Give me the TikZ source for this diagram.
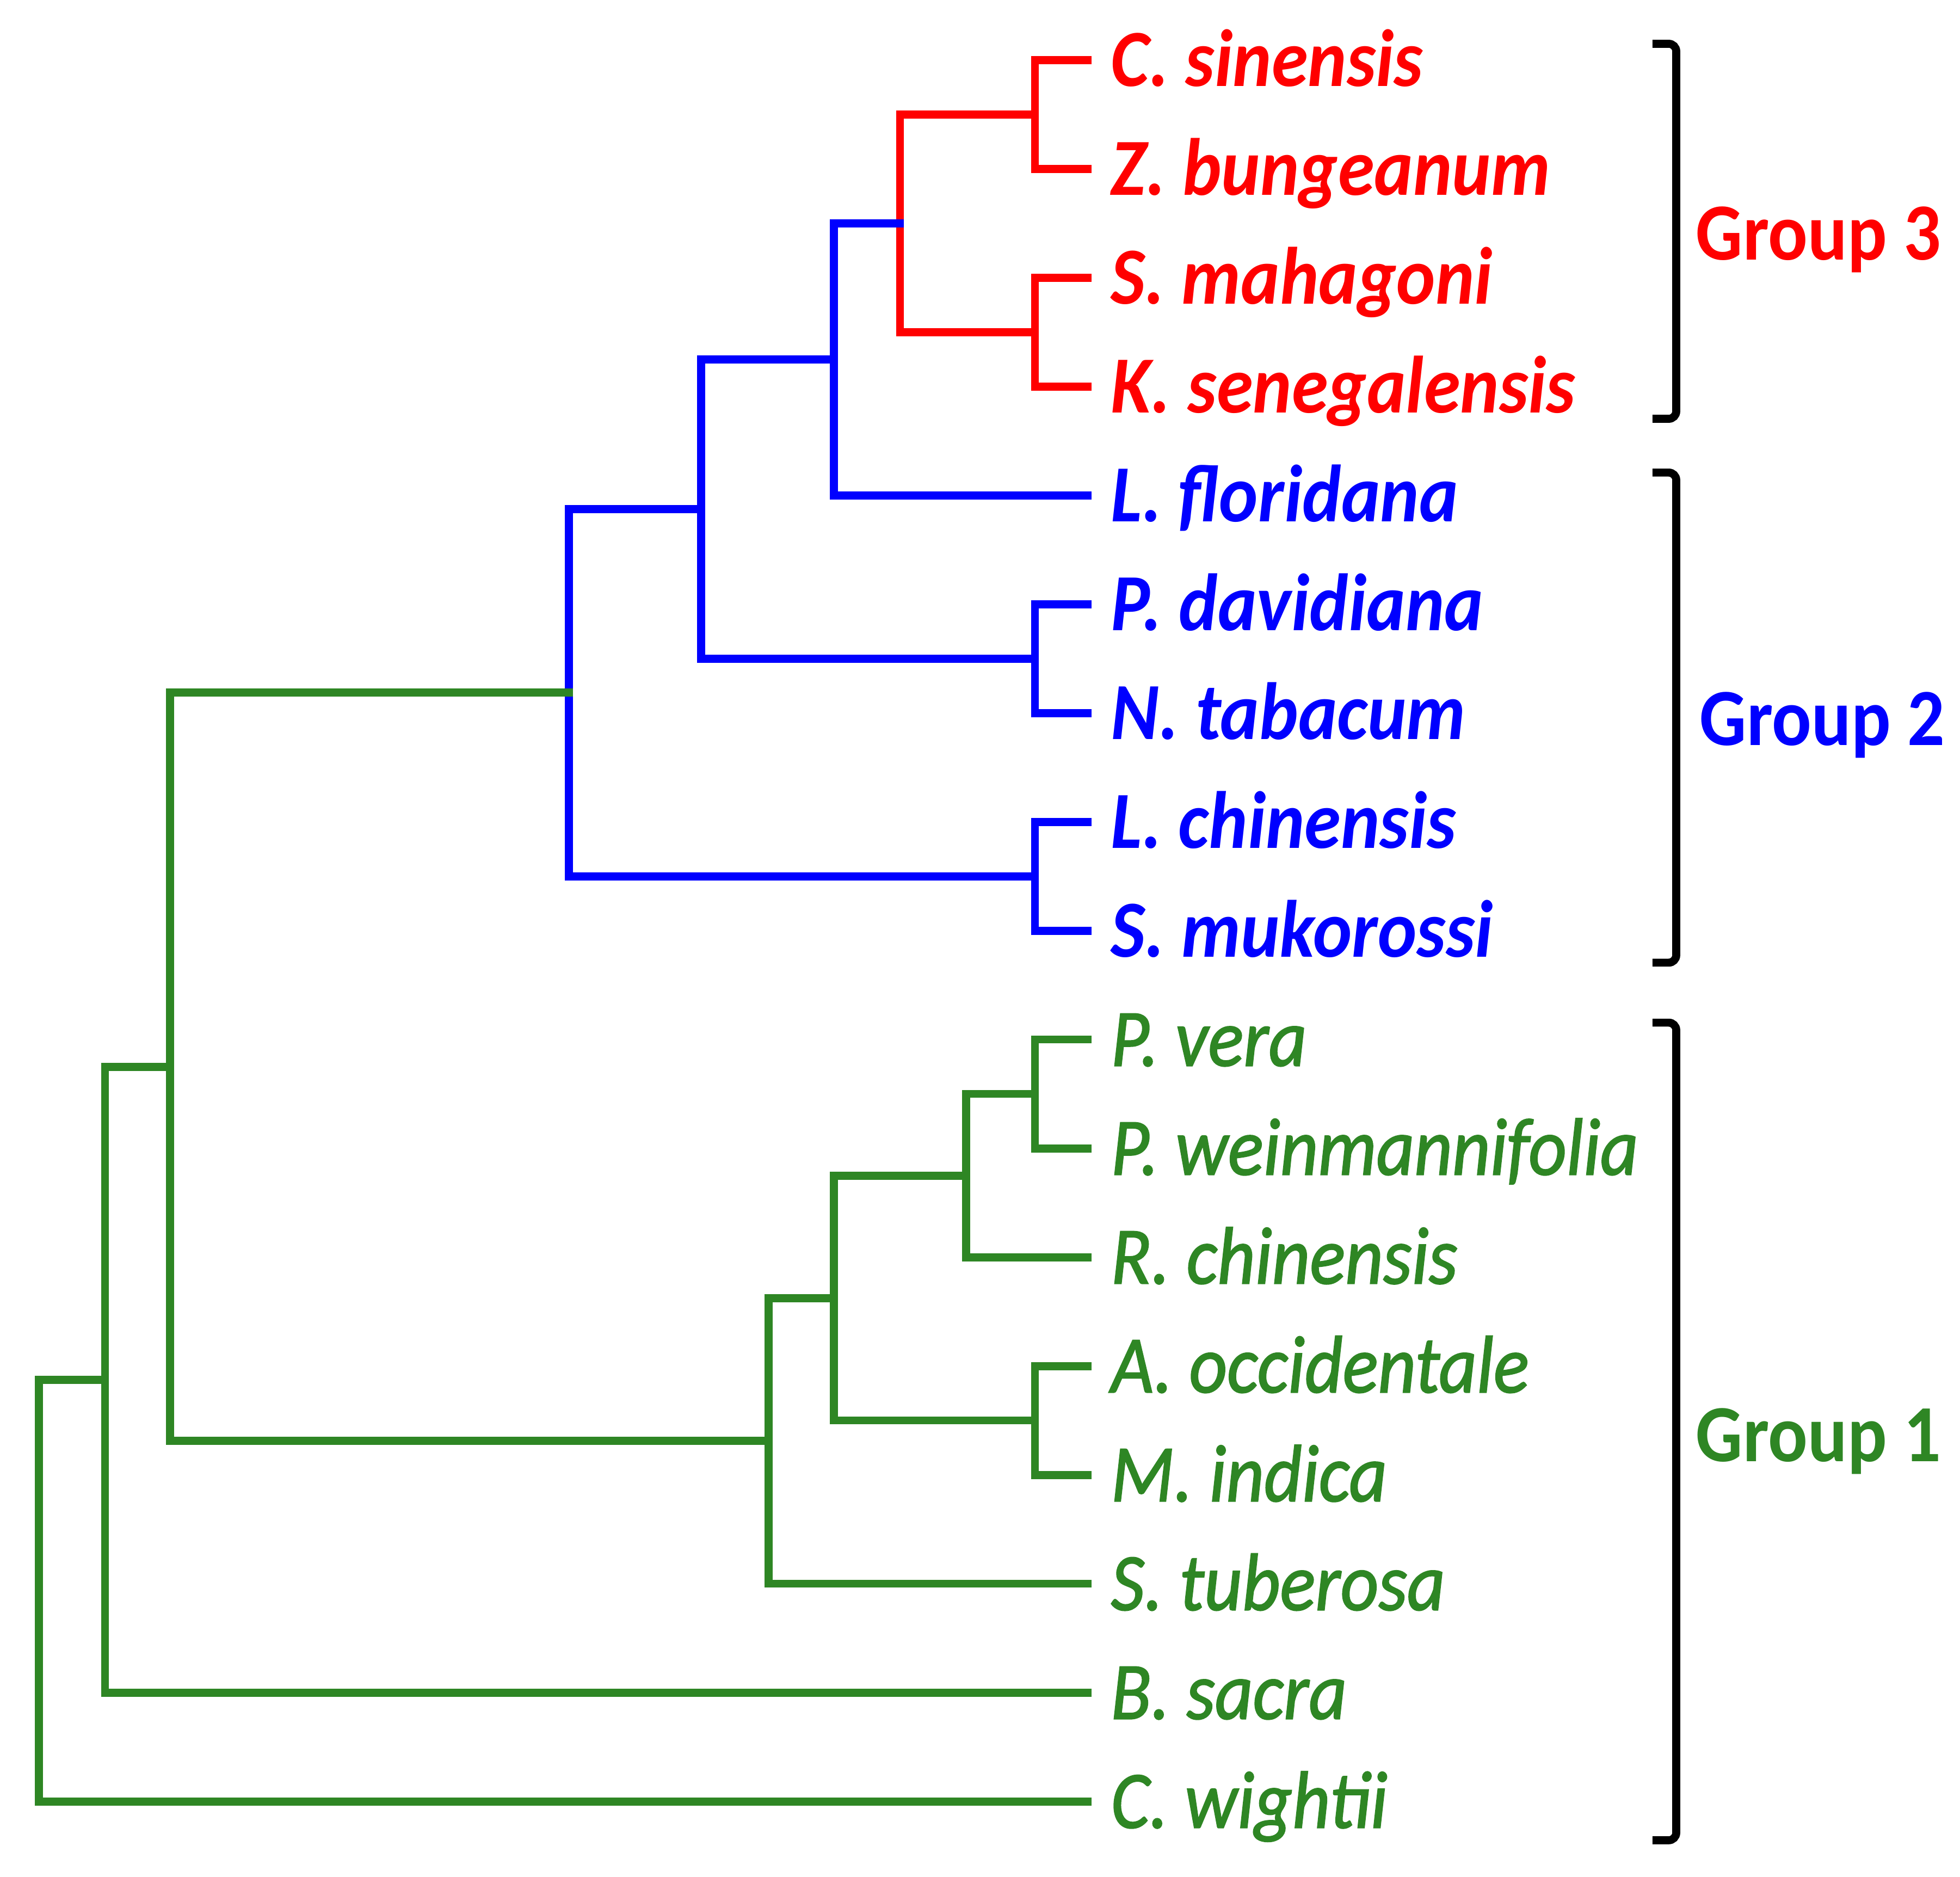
\documentclass[tikz,border=0pt]{standalone}
\usepackage{fontspec}
\setmainfont{Carlito}
\newfontfamily\grnit[FakeBold=1.6]{Carlito Italic}
\definecolor{grn}{RGB}{46,134,36}
\newcommand\tallt[1]{\scalebox{1}[1.1]{#1}}
\begin{document}
\begin{tikzpicture}[x=0.25pt,y=-0.25pt,
  br/.style={line width=1.6pt, line join=miter, line cap=rect},
  rd/.style={br, draw=red},
  bl/.style={br, draw=blue},
  gr/.style={br, draw=grn},
  brk/.style={line width=1.6pt, draw=black, rounded corners=1.5pt},
  leafbf/.style={anchor=base west, inner sep=0pt, font=\fontsize{14.75pt}{16pt}\selectfont\bfseries\itshape},
  leafrg/.style={anchor=base west, inner sep=0pt, font=\fontsize{14.75pt}{16pt}\selectfont\grnit},
  grp/.style={anchor=base west, inner sep=0pt, font=\fontsize{14.75pt}{16pt}\selectfont\bfseries}
]
\useasboundingbox (0,0) rectangle (1568,1501);
% leaf line ends
\coordinate (e1) at (870,48);
\coordinate (e2) at (870,135.06);
\coordinate (e3) at (870,222.1);
\coordinate (e4) at (870,309.2);
\coordinate (e5) at (870,396.2);
\coordinate (e6) at (870,483.3);
\coordinate (e7) at (870,570.4);
\coordinate (e8) at (870,657.4);
\coordinate (e9) at (870,744.5);
\coordinate (e10) at (870,831.5);
\coordinate (e11) at (870,918.6);
\coordinate (e12) at (870,1005.7);
\coordinate (e13) at (870,1092.7);
\coordinate (e14) at (870,1179.8);
\coordinate (e15) at (870,1266.8);
\coordinate (e16) at (870,1353.9);
\coordinate (e17) at (870,1441);
% labels
\node[leafbf, text=red]  (t1)  at (888,48+21) {\tallt{C. sinensis}};
\node[leafbf, text=red]  (t2)  at (888,135.06+21) {\tallt{Z. bungeanum}};
\node[leafbf, text=red]  (t3)  at (888,222.1+21) {\tallt{S. mahagoni}};
\node[leafbf, text=red]  (t4)  at (888,309.2+21) {\tallt{K. senegalensis}};
\node[leafbf, text=blue] (t5)  at (888,396.2+21) {\tallt{L. floridana}};
\node[leafbf, text=blue] (t6)  at (888,483.3+21) {\tallt{P. davidiana}};
\node[leafbf, text=blue] (t7)  at (888,570.4+21) {\tallt{N. tabacum}};
\node[leafbf, text=blue] (t8)  at (888,657.4+21) {\tallt{L. chinensis}};
\node[leafbf, text=blue] (t9)  at (888,744.5+21) {\tallt{S. mukorossi}};
\node[leafrg, text=grn]  (t10) at (888,831.5+21) {\tallt{P. vera}};
\node[leafrg, text=grn]  (t11) at (888,918.6+21) {\tallt{P. weinmannifolia}};
\node[leafrg, text=grn]  (t12) at (888,1005.7+21) {\tallt{R. chinensis}};
\node[leafrg, text=grn]  (t13) at (888,1092.7+21) {\tallt{A. occidentale}};
\node[leafrg, text=grn]  (t14) at (888,1179.8+21) {\tallt{M. indica}};
\node[leafrg, text=grn]  (t15) at (888,1266.8+21) {\tallt{S. tuberosa}};
\node[leafrg, text=grn]  (t16) at (888,1353.9+21) {\tallt{B. sacra}};
\node[leafrg, text=grn]  (t17) at (888,1441+21) {\tallt{C. wightii}};
% internal nodes
\coordinate (a) at (828,91.5);
\coordinate (b) at (828,265.7);
\coordinate (c) at (720,178.6);
\coordinate (d) at (667,287.4);
\coordinate (e) at (828,526.9);
\coordinate (f) at (561,407.1);
\coordinate (g) at (828,701);
\coordinate (h) at (455,554);
\coordinate (i) at (828,875);
\coordinate (j) at (773,940.4);
\coordinate (k) at (828,1136.2);
\coordinate (l) at (667,1038.3);
\coordinate (m) at (615,1152.6);
\coordinate (n) at (136,853.3);
\coordinate (o) at (84,1103.6);
\coordinate (p) at (31,1272.3);
% branches
\draw[rd] (e1) -| (a) |- (e2);
\draw[rd] (e3) -| (b) |- (e4);
\draw[rd] (a) -| (c) |- (b);
\draw[bl] (c) -| (d) |- (e5);
\draw[bl] (e6) -| (e) |- (e7);
\draw[bl] (d) -| (f) |- (e);
\draw[bl] (e8) -| (g) |- (e9);
\draw[bl] (f) -| (h) |- (g);
\draw[gr] (e10) -| (i) |- (e11);
\draw[gr] (i) -| (j) |- (e12);
\draw[gr] (e13) -| (k) |- (e14);
\draw[gr] (j) -| (l) |- (k);
\draw[gr] (l) -| (m) |- (e15);
\draw[gr] (h) -| (n) |- (m);
\draw[gr] (n) -| (o) |- (e16);
\draw[gr] (o) -| (p) |- (e17);
% brackets
\coordinate (g3t) at (1322,35);
\coordinate (g3b) at (1322,335);
\coordinate (g2t) at (1322,378);
\coordinate (g2b) at (1322,770);
\coordinate (g1t) at (1322,818);
\coordinate (g1b) at (1322,1472);
\draw[brk] (g3t) -- ++(19,0) |- (g3b);
\draw[brk] (g2t) -- ++(19,0) |- (g2b);
\draw[brk] (g1t) -- ++(19,0) |- (g1b);
\node[grp, text=red]  (G3) at (1356,187+21) {\tallt{Group 3}};
\node[grp, text=blue] (G2) at (1359,575+21) {\tallt{Group 2}};
\node[grp, text=grn]  (G1) at (1356,1148+21) {\tallt{Group 1}};
\end{tikzpicture}
\end{document}
